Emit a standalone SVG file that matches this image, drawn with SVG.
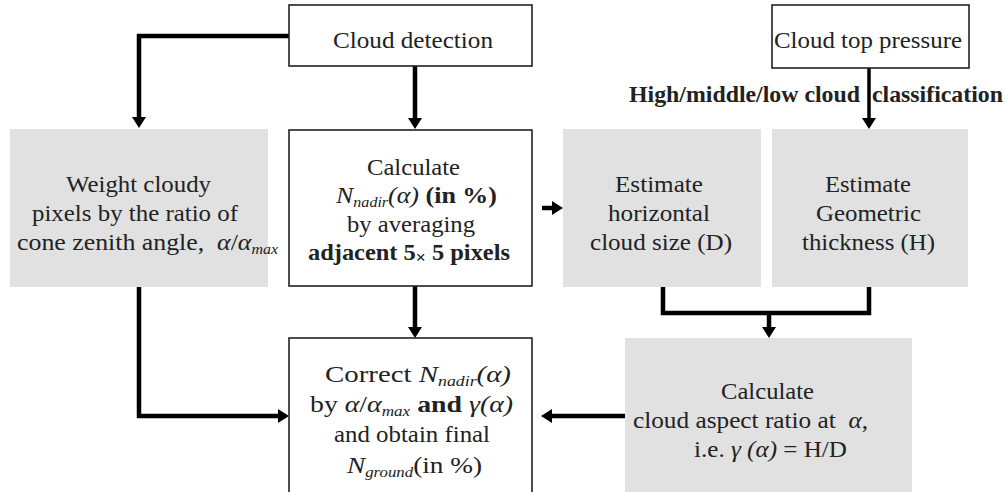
<svg xmlns="http://www.w3.org/2000/svg" width="1006" height="492" viewBox="0 0 1006 492">
<defs>
<style>
text{font-family:'Liberation Serif','Times New Roman',serif;font-size:23.5px;fill:#222;}
.b{font-weight:bold;}
.i{font-style:italic;}
.sub{font-style:italic;font-size:14.5px;}
.white{fill:#fff;stroke:#222;stroke-width:1.6;}
.gray{fill:#e1e1e1;stroke:none;}
.c{fill:none;stroke:#000;stroke-width:4.5;stroke-linejoin:miter;}
.thin{stroke-width:3.5;}
</style>
<marker id="ah" viewBox="0 0 11 14" refX="5" refY="7" markerWidth="11" markerHeight="14" markerUnits="userSpaceOnUse" orient="auto">
<path d="M0,0 L11,7 L0,14 z" fill="#000"/>
</marker>
</defs>
<rect width="1006" height="492" fill="#fff"/>

<g id="connectors">
<polyline class="c" points="289,36 139,36 139,122" marker-end="url(#ah)"/>
<line class="c" x1="415" y1="66" x2="415" y2="123" marker-end="url(#ah)"/>
<line class="c thin" x1="869" y1="68" x2="869" y2="123" marker-end="url(#ah)"/>
<line class="c" x1="542" y1="208" x2="557" y2="208" marker-end="url(#ah)"/>
<polyline class="c" points="139,287 139,416 283,416" marker-end="url(#ah)"/>
<line class="c" x1="415" y1="286" x2="415" y2="332" marker-end="url(#ah)"/>
<polyline class="c" points="663,287 663,313 869,313 869,287"/>
<line class="c" x1="769" y1="313" x2="769" y2="332" marker-end="url(#ah)"/>
<line class="c" x1="625" y1="416" x2="547" y2="416" marker-end="url(#ah)"/>
</g>

<g id="cloud-detection">
<rect class="white" x="289" y="5" width="243" height="61"/>
<text x="333" y="48" textLength="160" lengthAdjust="spacingAndGlyphs">Cloud detection</text>
</g>

<g id="cloud-top-pressure">
<rect class="white" x="772" y="5" width="197" height="63"/>
<text x="774" y="48" textLength="188" lengthAdjust="spacingAndGlyphs">Cloud top pressure</text>
</g>

<g id="classification-label">
<text class="b" x="629" y="102" font-size="21" textLength="374" lengthAdjust="spacingAndGlyphs">High/middle/low cloud&#160; classification</text>
</g>

<g id="weight-cloudy">
<rect class="gray" x="10" y="129" width="258" height="158"/>
<text x="66" y="192" textLength="145" lengthAdjust="spacingAndGlyphs">Weight cloudy</text>
<text x="32" y="221" textLength="206" lengthAdjust="spacingAndGlyphs">pixels by the ratio of</text>
<text x="17" y="250" textLength="261" lengthAdjust="spacingAndGlyphs">cone zenith angle,&#160; <tspan class="i">α</tspan>/<tspan class="i">α</tspan><tspan class="sub" dy="4">max</tspan></text>
</g>

<g id="calculate-nadir">
<rect class="white" x="289" y="130" width="243" height="156"/>
<text x="367" y="175" textLength="93" lengthAdjust="spacingAndGlyphs">Calculate</text>
<text x="336" y="203" textLength="161" lengthAdjust="spacingAndGlyphs"><tspan class="i">N</tspan><tspan class="sub" dy="4">nadir</tspan><tspan class="i" dy="-4">(α)</tspan><tspan class="b"> (in %)</tspan></text>
<text x="347" y="232" textLength="128" lengthAdjust="spacingAndGlyphs">by averaging</text>
<text class="b" x="308" y="260" textLength="202" lengthAdjust="spacingAndGlyphs">adjacent 5<tspan font-size="17" dy="3">×</tspan><tspan dy="-3"> 5 pixels</tspan></text>
</g>

<g id="estimate-size">
<rect class="gray" x="563" y="129" width="198" height="158"/>
<text x="615" y="192" textLength="88" lengthAdjust="spacingAndGlyphs">Estimate</text>
<text x="608" y="221" textLength="102" lengthAdjust="spacingAndGlyphs">horizontal</text>
<text x="590" y="250" textLength="142" lengthAdjust="spacingAndGlyphs">cloud size (D)</text>
</g>

<g id="estimate-thickness">
<rect class="gray" x="772" y="129" width="196" height="158"/>
<text x="825" y="192" textLength="86" lengthAdjust="spacingAndGlyphs">Estimate</text>
<text x="816" y="221" textLength="105" lengthAdjust="spacingAndGlyphs">Geometric</text>
<text x="802" y="250" textLength="133" lengthAdjust="spacingAndGlyphs">thickness (H)</text>
</g>

<g id="correct">
<rect class="white" x="289" y="338" width="243" height="170"/>
<text x="325" y="382" textLength="186" lengthAdjust="spacingAndGlyphs">Correct <tspan class="i">N</tspan><tspan class="sub" dy="4">nadir</tspan><tspan class="i" dy="-4">(α)</tspan></text>
<text x="310" y="412" textLength="203" lengthAdjust="spacingAndGlyphs">by <tspan class="i">α</tspan>/<tspan class="i">α</tspan><tspan class="sub" dy="4">max</tspan><tspan class="b" dy="-4"> and </tspan><tspan class="i">γ(α)</tspan></text>
<text x="334" y="442" textLength="156" lengthAdjust="spacingAndGlyphs">and obtain final</text>
<text x="347" y="473" textLength="135" lengthAdjust="spacingAndGlyphs"><tspan class="i">N</tspan><tspan class="sub" dy="4">ground</tspan><tspan dy="-4">(in %)</tspan></text>
</g>

<g id="aspect-ratio">
<rect class="gray" x="625" y="338" width="287" height="160"/>
<text x="721" y="399" textLength="93" lengthAdjust="spacingAndGlyphs">Calculate</text>
<text x="633" y="428" textLength="235" lengthAdjust="spacingAndGlyphs">cloud aspect ratio at&#160; <tspan class="i">α</tspan>,</text>
<text x="694" y="457" textLength="153" lengthAdjust="spacingAndGlyphs">i.e. <tspan class="i">γ</tspan> <tspan class="i">(α)</tspan> = H/D</text>
</g>
</svg>
